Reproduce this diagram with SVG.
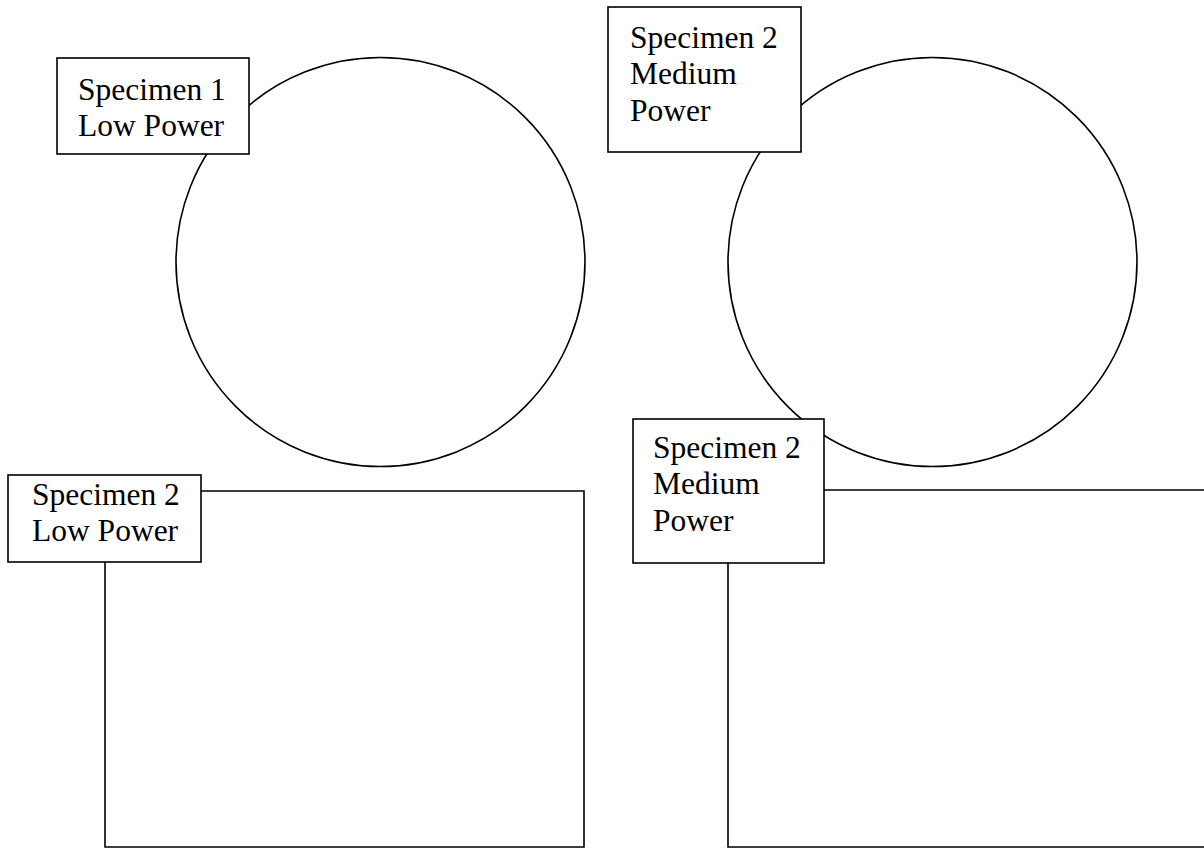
<svg xmlns="http://www.w3.org/2000/svg" width="1204" height="851" viewBox="0 0 1204 851">
<style>
.shape{fill:none;stroke:#000;stroke-width:1.6}
.box{fill:#fff;stroke:#000;stroke-width:1.6}
.t{font-family:"Liberation Serif","Times New Roman",serif;font-size:31.5px;fill:#000}
</style>
<rect width="1204" height="851" fill="#fff"/>
<g id="connectors">
<path class="shape" d="M201,491 H584 V847 H105 V562"/>
<path class="shape" d="M824,490 H1204 M1204,847 H728 V563"/>
</g>
<g id="circle1"><circle class="shape" cx="380.5" cy="262" r="204.5"/></g>
<g id="circle2"><circle class="shape" cx="932.5" cy="262" r="204.5"/></g>
<g id="label1">
<rect class="box" x="57" y="58" width="192" height="96"/>
<text class="t" x="78" y="100">Specimen 1</text>
<text class="t" x="78" y="136">Low Power</text>
</g>
<g id="label2">
<rect class="box" x="608" y="7" width="193" height="145"/>
<text class="t" x="630" y="48">Specimen 2</text>
<text class="t" x="630" y="84">Medium</text>
<text class="t" x="630" y="121">Power</text>
</g>
<g id="label3">
<rect class="box" x="8" y="475" width="193" height="87"/>
<text class="t" x="32" y="505">Specimen 2</text>
<text class="t" x="32" y="541">Low Power</text>
</g>
<g id="label4">
<rect class="box" x="633" y="419" width="191" height="144"/>
<text class="t" x="653" y="458">Specimen 2</text>
<text class="t" x="653" y="494">Medium</text>
<text class="t" x="653" y="531">Power</text>
</g>
</svg>
